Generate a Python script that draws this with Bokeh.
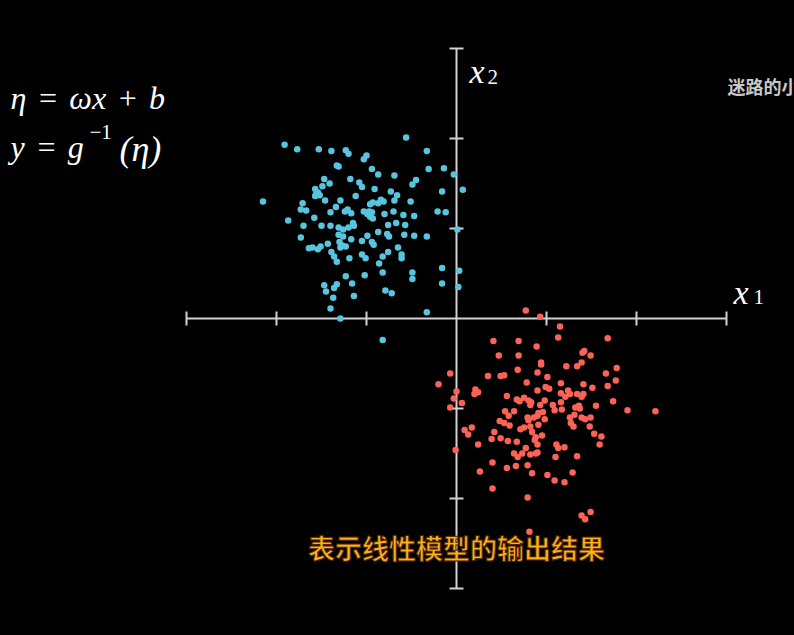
from bokeh.plotting import figure
from bokeh.models import Label, FixedTicker, Range1d, ColumnDataSource
from bokeh.embed import file_html
from bokeh.resources import INLINE

# ---- data ----
blue_x = [-1.91, -1.77, -1.53, -1.39, -1.23, -1.20, -1.33, -1.31, -1.18, -1.47, -1.41, -1.49, -1.57, -1.54,
          -1.56, -1.52, -1.57, -1.08, -1.12, -2.15, -1.46, -1.29, -1.71, -1.34, -1.73, -1.67, -1.40, -1.24,
          -1.21, -1.17, -1.58, -1.87, -1.70, -1.50, -1.40, -1.31, -1.26, -1.20, -1.15, -1.14, -1.73, -1.31,
          -1.26, -1.17,
          -0.56, -0.33, -1.00, -1.03, -0.94, -0.87, -0.69, -0.31, -0.14, -0.03, -0.45, -0.49, -1.05, -0.91,
          -0.73, -0.66, -0.16, 0.07, -0.69, -0.84, -0.81, -0.87, -0.93, -0.96, -0.51, -1.03, -0.97, -0.94,
          -0.99, -0.96, -0.93, -0.80, -0.70, -0.59, -0.47, -0.21, -0.12, -0.67, -0.76, -0.57, -0.87, -0.77,
          -0.75, -0.58, -0.47, -0.33, 0.01, -0.99,
          -1.64, -1.60, -1.54, -1.51, -1.43, -1.30, -1.27, -1.29, -1.23, -1.39, -1.36, -1.33, -1.19, -1.23,
          -1.47, -1.45, -1.36, -1.33, -1.16, -1.14, -1.37, -1.40, -1.29,
          -1.05, -0.94, -0.92, -0.65, -1.05, -1.01, -0.82, -0.76, -0.61, -0.61, -0.86, -0.82, -1.02, -0.49,
          -0.49, -0.16, 0.03, -0.16, 0.02, -0.79, -0.72, -0.33, -0.82]
blue_y = [1.93, 1.88, 1.88, 1.86, 1.87, 1.83, 1.70, 1.69, 1.55, 1.55, 1.50, 1.47, 1.44, 1.40,
          1.38, 1.37, 1.36, 1.51, 1.36, 1.30, 1.31, 1.31, 1.28, 1.24, 1.21, 1.20, 1.18, 1.19,
          1.21, 1.17, 1.12, 1.09, 1.03, 1.03, 1.03, 1.01, 0.99, 1.01, 1.06, 1.03, 0.90, 0.93,
          0.91, 0.88,
          2.01, 1.86, 1.81, 1.77, 1.66, 1.60, 1.59, 1.66, 1.67, 1.60, 1.54, 1.49, 1.46, 1.44,
          1.41, 1.37, 1.41, 1.43, 1.31, 1.32, 1.30, 1.28, 1.29, 1.27, 1.30, 1.19, 1.19, 1.18,
          1.16, 1.13, 1.11, 1.16, 1.19, 1.15, 1.14, 1.19, 1.18, 1.06, 1.04, 1.04, 0.96, 0.94,
          0.91, 0.93, 0.92, 0.91, 0.99, 0.92,
          0.78, 0.79, 0.77, 0.80, 0.83, 0.85, 0.81, 0.79, 0.80, 0.74, 0.69, 0.63, 0.67, 0.47,
          0.37, 0.30, 0.34, 0.38, 0.39, 0.25, 0.23, 0.11, 0.00,
          0.86, 0.85, 0.82, 0.79, 0.71, 0.67, 0.69, 0.74, 0.71, 0.67, 0.61, 0.51, 0.48, 0.51,
          0.44, 0.56, 0.53, 0.39, 0.35, 0.31, 0.28, 0.07, -0.24]

red_x = [0.77, 0.93, 0.41, 0.69, 0.89, 0.47, 0.69, 0.94, 0.94, 0.68, 0.90, -0.07, 0.35, 0.49,
         0.53, 0.78, -0.20, 0.00, 0.21, 0.20, 0.24, 0.90, 0.99, 0.56, -0.03, 0.06, -0.07, 0.67,
         0.70, 0.75, 0.80, 0.83, 0.82, 0.93, 0.98, 0.54, 0.64,
         1.15, 1.13, 1.68, 1.40, 1.42, 1.49, 1.39, 1.22, 1.34, 1.78, 1.66, 1.01, 1.77, 1.16,
         1.41, 1.68, 1.03, 1.51, 1.24, 1.26, 1.16, 1.21, 1.34, 1.39, 1.41, 1.16, 1.74, 1.07,
         1.09, 1.32, 1.36, 1.37, 1.55, 1.17, 1.90, 2.21,
         0.58, 0.48, 0.53, 0.59, 0.79, 0.80, 0.86, 0.90, 0.91, 0.96, 0.98, 0.17, 0.09, 0.13,
         0.42, 0.71, 0.75, 0.82, 0.91, 0.84, 0.39, 0.49, 0.57, 0.67, 0.88, 0.87, 0.95, 0.90,
         0.24, 0.77, -0.01, 0.64, 0.68, 0.73, 0.82, 0.88, 0.90, 0.40, 0.56, 0.66, 0.79, 0.26,
         0.84, 0.40, 0.79,
         1.26, 1.31, 1.39, 1.43, 1.49, 1.27, 1.30, 1.48, 1.53, 1.61, 1.59, 1.11, 1.13, 1.20,
         1.34, 1.10, 1.29, 1.01, 1.09, 1.20, 1.49, 1.39, 1.43, 0.81]
red_y = [0.09, 0.02, -0.25, -0.25, -0.31, -0.41, -0.41, -0.49, -0.51, -0.57, -0.60, -0.61, -0.64, -0.64,
         -0.63, -0.71, -0.73, -0.81, -0.79, -0.84, -0.82, -0.80, -0.76, -0.86, -0.89, -0.94, -0.99, -0.90,
         -0.92, -0.88, -0.91, -0.93, -0.96, -0.96, -0.91, -1.03, -1.03,
         -0.09, -0.21, -0.22, -0.38, -0.36, -0.41, -0.49, -0.53, -0.53, -0.55, -0.61, -0.65, -0.69, -0.72,
         -0.73, -0.75, -0.78, -0.77, -0.80, -0.84, -0.83, -0.87, -0.84, -0.87, -0.84, -0.93, -0.92, -0.96,
         -1.02, -0.99, -0.97, -1.00, -0.97, -1.01, -1.02, -1.03,
         -1.08, -1.14, -1.16, -1.19, -1.10, -1.13, -1.10, -1.08, -1.05, -1.04, -1.12, -1.21, -1.24, -1.29,
         -1.26, -1.23, -1.21, -1.20, -1.18, -1.26, -1.34, -1.33, -1.36, -1.37, -1.32, -1.35, -1.30, -1.40,
         -1.40, -1.44, -1.46, -1.50, -1.54, -1.50, -1.51, -1.50, -1.49, -1.60, -1.66, -1.64, -1.63, -1.70,
         -1.72, -1.89, -1.99,
         -1.10, -1.07, -1.10, -1.12, -1.10, -1.16, -1.20, -1.20, -1.28, -1.31, -1.40, -1.40, -1.44, -1.43,
         -1.53, -1.54, -1.71, -1.74, -1.80, -1.82, -2.15, -2.19, -2.23, -2.37]

axis_ticks = [-3, -2, -1, 1, 2, 3]
axis_bounds = (-3, 3)

SP = "\u2004"
formula_1 = f"η{SP}={SP}ωx{SP}+{SP}b"
formula_2_a = f"y{SP}={SP}g"
formula_2_sup = "−1"
formula_2_b = "(η)"
x1_main, x1_sub = "x", "1"
x2_main, x2_sub = "x", "2"
caption = "表示线性模型的输出结果"
watermark = "迷路的小"

BLUE = "#58C4DD"
RED = "#FC6255"
AXIS = "#d2d2d2"

W, H = 794, 635
PX = 90.0  # pixels per unit
x0 = -456 / PX
y1 = 318 / PX

p = figure(width=W, height=H, output_backend="svg", toolbar_location=None,
           x_range=Range1d(x0, x0 + W / PX), y_range=Range1d(y1 - H / PX, y1),
           background_fill_color="black", border_fill_color="black",
           outline_line_color=None, min_border=0)
p.grid.visible = False

for ax in (p.xaxis[0], p.yaxis[0]):
    ax.fixed_location = 0
    ax.bounds = axis_bounds
    ax.ticker = FixedTicker(ticks=axis_ticks)
    ax.axis_line_color = AXIS
    ax.axis_line_width = 2
    ax.major_tick_line_color = AXIS
    ax.major_tick_line_width = 2
    ax.major_tick_in = 7
    ax.major_tick_out = 7
    ax.minor_tick_line_color = None
    ax.major_label_text_color = None
    ax.major_label_text_font_size = "0px"

bsrc = ColumnDataSource(dict(x=blue_x, y=blue_y))
rsrc = ColumnDataSource(dict(x=red_x, y=red_y))
p.scatter("x", "y", source=bsrc, size=6.5, fill_color=BLUE, line_color=None, level="overlay")
p.scatter("x", "y", source=rsrc, size=6.5, fill_color=RED, line_color=None, level="overlay")


def lab(text, x, y, size, color="white", font="Liberation Serif", style="italic",
        align="left", baseline="alphabetic", **kw):
    l = Label(x=x, y=y, text=text, text_font=font, text_font_size=size, text_font_style=style,
              text_color=color, text_align=align, text_baseline=baseline, **kw)
    p.add_layout(l)
    return l


def dx(px):
    return (px - 456) / PX


def dy(py):
    return (318 - py) / PX


lab(formula_1, dx(10), dy(97), "32px")
lab(formula_2_a, dx(10), dy(146), "32px")
lab(formula_2_sup, dx(89), dy(131), "21px", style="normal")
lab(formula_2_b, dx(119), dy(148), "36px")

lab(x1_main, dx(733), dy(292), "34px")
lab(x1_sub, dx(753), dy(296), "21px", style="normal")
lab(x2_main, dx(469), dy(71), "34px")
lab(x2_sub, dx(487), dy(76), "21px", style="normal")

lab(caption, 0, dy(547), "27px", color="#FFB11A", font="Noto Sans CJK SC", style="bold",
    align="center", baseline="middle", text_outline_color="#4a2000")
lab(watermark, dx(727), dy(85), "18px", color="#c8c8c8", font="Noto Sans CJK SC", style="bold",
    baseline="middle")

html = file_html(p, INLINE)
html = html.replace("</head>",
                    "<style>html,body{background:#000000 !important;}</style></head>", 1)
open("out.html", "w").write(html)
